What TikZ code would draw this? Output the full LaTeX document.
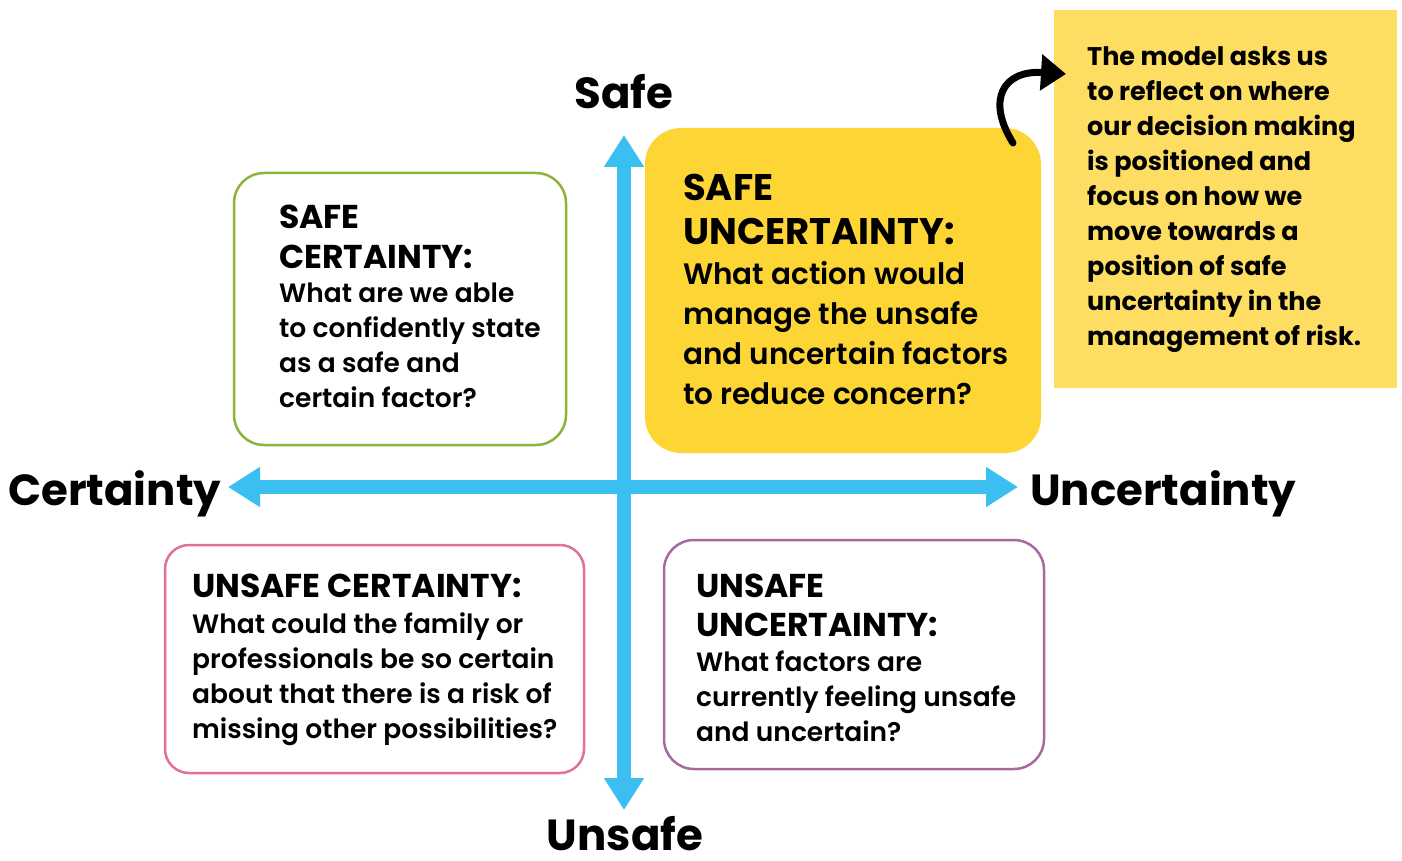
\documentclass[tikz,border=0pt]{standalone}
\usepackage{fontspec}
\setmainfont{Poppins SemiBold}[BoldFont=Poppins Bold]
\usetikzlibrary{arrows.meta}
\definecolor{axisblue}{HTML}{3BBEF0}
\definecolor{gold}{HTML}{FDD535}
\definecolor{notefill}{HTML}{FEDD63}
\definecolor{cgreen}{HTML}{8DB33A}
\definecolor{cpink}{HTML}{E0709E}
\definecolor{cpurple}{HTML}{A8699E}
\tikzset{
  txt/.style={anchor=north west, inner sep=0pt, align=left},
  axislabel/.style={font=\bfseries\fontsize{43.5}{50}\selectfont, inner sep=0pt, anchor=base},
  axisarrow/.style={draw=axisblue, line width=14pt, -{Triangle[length=32pt,width=38pt]}},
}
\begin{document}
\begin{tikzpicture}[x=1pt,y=-1pt]
\useasboundingbox (0,0) rectangle (1402,861);
% boxes
\draw[cgreen, line width=2.5pt, rounded corners=30pt] (234,173) rectangle (566,445);
\node[inner sep=0pt] (sc) at (400,309) {};
\fill[gold, rounded corners=36pt] (645,128) rectangle (1041,453);
\node[inner sep=0pt] (su) at (843,290) {};
\draw[cpink, line width=2.5pt, rounded corners=24pt] (165,545) rectangle (584,773);
\node[inner sep=0pt] (uc) at (374,659) {};
\draw[cpurple, line width=2.5pt, rounded corners=30pt] (664,540) rectangle (1044,769);
\node[inner sep=0pt] (uu) at (854,654) {};
\fill[notefill] (1054,10) rectangle (1397,388);
\node[inner sep=0pt] (note) at (1225,199) {};
% axes
\node[inner sep=0pt] (ctr) at (624,487) {};
\coordinate (ntip) at (624,135);
\coordinate (stip) at (624,810);
\coordinate (wtip) at (228,487);
\coordinate (etip) at (1018,487);
\draw[axisarrow] (ctr.center) -- (ntip);
\draw[axisarrow] (ctr.center) -- (stip);
\draw[axisarrow] (ctr.center) -- (wtip);
\draw[axisarrow] (ctr.center) -- (etip);
\node[axislabel] (safe) at (624,109) {Safe};
\node[axislabel] (unsafe) at (625,850) {Unsafe};
\node[axislabel, anchor=base west] (cert) at (8,505) {Certainty};
\node[axislabel, anchor=base west] (uncert) at (1030,505) {Uncertainty};
% curved arrow
\coordinate (cs) at (1013,143);
\coordinate (ce) at (1066,74);
\draw[line width=7pt, line cap=round, -{Triangle[length=25pt,width=35pt]}] (cs) .. controls (986,100) and (1003,70) .. (ce);
% texts: safe certainty
\node[txt, font=\bfseries\fontsize{33}{40}\selectfont] (hsc) at (279,204.5) {SAFE\\CERTAINTY:};
\node[txt, font=\fontsize{26.5}{35}\selectfont] (bsc) at (279,283) {What are we able\\to confidently state\\as a safe and\\certain factor?};
% safe uncertainty
\node[txt, font=\bfseries\fontsize{37}{44}\selectfont] (hsu) at (683,174) {SAFE\\UNCERTAINTY:};
\node[txt, font=\fontsize{29.5}{40}\selectfont] (bsu) at (683,261.5) {What action would\\manage the unsafe\\and uncertain factors\\to reduce concern?};
% note
\node[txt, font=\bfseries\fontsize{25.5}{35}\selectfont] (tnote) at (1087,46) {The model asks us\\to reflect on where\\our decision making\\is positioned and\\focus on how we\\move towards a\\position of safe\\uncertainty in the\\management of risk.};
% unsafe certainty
\node[txt, font=\bfseries\fontsize{33}{37}\selectfont] (huc) at (192,573.5) {UNSAFE CERTAINTY:};
\node[txt, font=\fontsize{26.5}{35}\selectfont] (buc) at (192,612.5) {What could the family or\\professionals be so certain\\about that there is a risk of\\missing other possibilities?};
% unsafe uncertainty
\node[txt, font=\bfseries\fontsize{33}{39}\selectfont] (huu) at (696,573.5) {UNSAFE\\UNCERTAINTY:};
\node[txt, font=\fontsize{26.5}{35}\selectfont] (buu) at (696,650.5) {What factors are\\currently feeling unsafe\\and uncertain?};
\end{tikzpicture}
\end{document}
